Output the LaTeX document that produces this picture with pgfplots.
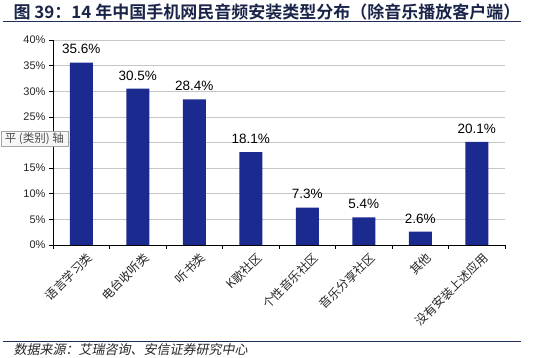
\documentclass[border=0pt]{standalone}
\usepackage{pgfplots}
\pgfplotsset{compat=1.18}
\usepackage{fontspec}
\setmainfont{Liberation Sans}
\newfontfamily\cjk{Noto Sans CJK SC}
\newfontfamily\cjkb{Noto Sans CJK SC Bold}
\newfontfamily\cjks[FakeSlant=0.2]{Noto Sans CJK SC}
\definecolor{barblue}{HTML}{1B2A8E}
\definecolor{titleblue}{HTML}{1F2D5A}
\begin{document}
\begin{tikzpicture}
\path[use as bounding box] (0pt,0pt) rectangle (539pt,358pt);
\begin{axis}[
  at={(53pt,113pt)}, anchor=south west,
  x=56.5pt, y=5.125pt,
  xmin=-0.5, xmax=7.5, ymin=0, ymax=40,
  axis x line*=bottom, axis y line*=left,
  axis line style={black, line width=0.6pt},
  xtick={0,...,7},
  xticklabels={语言学习类,电台收听类,听书类,K歌社区,个性音乐社区,音乐分享社区,其他,没有安装上述应用},
  xticklabel style={font=\cjk\fontsize{12}{13}\selectfont, rotate=45, anchor=east, xshift=5pt, yshift=-11pt, color=black!85},
  major x tick style={draw=none},
  minor xtick={-0.5,0.5,...,7.5},
  minor x tick style={black, line width=0.6pt},
  minor tick length=4pt,
  ytick={0,5,...,40},
  yticklabels={0\%,5\%,10\%,15\%,20\%,25\%,30\%,35\%,40\%},
  yticklabel style={font=\fontsize{11}{12}\selectfont, color=black!85},
  major y tick style={black, line width=0.6pt},
  major tick length=4pt,
  tick align=outside,
  ymajorgrids,
  grid style={gray!45, line width=0.6pt},
  enlargelimits=false,
  clip=false,
]
\addplot[ybar, bar width=23pt, fill=barblue, draw=none,
  point meta=explicit symbolic,
  nodes near coords,
  nodes near coords style={font=\fontsize{13.5}{14}\selectfont, anchor=south, yshift=5pt, color=black}]
  coordinates {(0,35.6)[35.6\%] (1,30.5)[30.5\%] (2,28.4)[28.4\%] (3,18.1)[18.1\%] (4,7.3)[7.3\%] (5,5.4)[5.4\%] (6,2.6)[2.6\%] (7,20.1)[20.1\%]};
\end{axis}
% tooltip artifact
\node[draw=gray!70, fill=gray!6, inner xsep=4pt, inner ysep=1pt, anchor=east, font=\cjk\fontsize{11.5}{12}\selectfont, text=black!70, minimum height=15pt] at (68pt,219.5pt) {平 (类别) 轴};
% title
\node[anchor=west, font=\cjkb\fontsize{17}{18}\selectfont, text=titleblue!80!black] at (10pt,346pt) {图 39：14 年中国手机网民音频安装类型分布（除音乐播放客户端）};
\draw[titleblue, line width=1pt] (3pt,336pt) -- (521pt,336pt);
\draw[titleblue, line width=0.8pt] (3pt,17pt) -- (521pt,17pt);
\node[anchor=west, font=\cjks\fontsize{13}{14}\selectfont, text=black!85] at (10pt,8pt) {数据来源：艾瑞咨询、安信证券研究中心};
\end{tikzpicture}
\end{document}
